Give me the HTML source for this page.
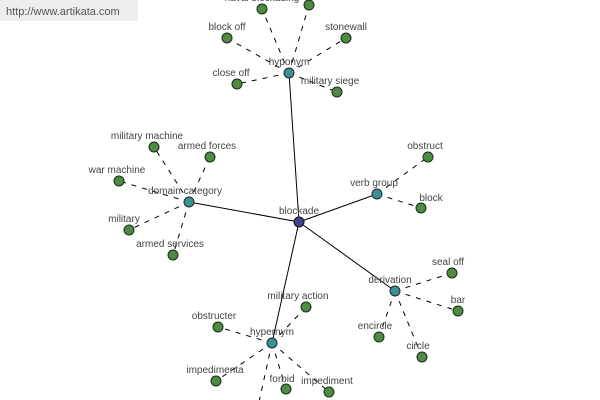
<!DOCTYPE html>
<html><head><style>
html,body{margin:0;padding:0;background:#fff;width:600px;height:400px;overflow:hidden}
svg text{font-family:"Liberation Sans",sans-serif;font-size:10px;fill:#444;text-anchor:middle}
</style></head><body>
<svg width="600" height="400" xmlns="http://www.w3.org/2000/svg">
<rect x="0" y="0" width="138" height="21" fill="#eeeeee"/>
<text x="6" y="15" style="text-anchor:start;font-size:11px;fill:#555">http://www.artikata.com</text>
<g stroke="#000" stroke-width="1">
<line x1="299" y1="222" x2="289" y2="73"/>
<line x1="299" y1="222" x2="377" y2="194"/>
<line x1="299" y1="222" x2="189" y2="202"/>
<line x1="299" y1="222" x2="395" y2="291"/>
<line x1="299" y1="222" x2="272" y2="343"/>
</g>
<g stroke="#000" stroke-width="1" stroke-dasharray="5,6">
<line x1="289" y1="73" x2="262" y2="9"/>
<line x1="289" y1="73" x2="309" y2="5"/>
<line x1="289" y1="73" x2="227" y2="38"/>
<line x1="289" y1="73" x2="346" y2="38"/>
<line x1="289" y1="73" x2="237" y2="84"/>
<line x1="289" y1="73" x2="337" y2="92"/>
<line x1="377" y1="194" x2="428" y2="157"/>
<line x1="377" y1="194" x2="421" y2="208"/>
<line x1="189" y1="202" x2="154" y2="147"/>
<line x1="189" y1="202" x2="210" y2="157"/>
<line x1="189" y1="202" x2="119" y2="181"/>
<line x1="189" y1="202" x2="129" y2="230"/>
<line x1="189" y1="202" x2="173" y2="255"/>
<line x1="395" y1="291" x2="452" y2="273"/>
<line x1="395" y1="291" x2="458" y2="311"/>
<line x1="395" y1="291" x2="379" y2="337"/>
<line x1="395" y1="291" x2="422" y2="357"/>
<line x1="272" y1="343" x2="306" y2="307"/>
<line x1="272" y1="343" x2="218" y2="327"/>
<line x1="272" y1="343" x2="216" y2="381"/>
<line x1="272" y1="343" x2="286" y2="389"/>
<line x1="272" y1="343" x2="329" y2="392"/>
<line x1="272" y1="343" x2="259" y2="402"/>
</g>
<g fill="#4e8a42" stroke="#1a2a1a" stroke-width="1">
<circle cx="262" cy="9" r="5"/><circle cx="309" cy="5" r="5"/>
<circle cx="227" cy="38" r="5"/><circle cx="346" cy="38" r="5"/>
<circle cx="237" cy="84" r="5"/><circle cx="337" cy="92" r="5"/>
<circle cx="428" cy="157" r="5"/><circle cx="421" cy="208" r="5"/>
<circle cx="154" cy="147" r="5"/><circle cx="210" cy="157" r="5"/>
<circle cx="119" cy="181" r="5"/><circle cx="129" cy="230" r="5"/>
<circle cx="173" cy="255" r="5"/>
<circle cx="452" cy="273" r="5"/><circle cx="458" cy="311" r="5"/>
<circle cx="379" cy="337" r="5"/><circle cx="422" cy="357" r="5"/>
<circle cx="306" cy="307" r="5"/><circle cx="218" cy="327" r="5"/>
<circle cx="216" cy="381" r="5"/><circle cx="286" cy="389" r="5"/>
<circle cx="329" cy="392" r="5"/>
</g>
<g fill="#3f8f93" stroke="#1a2a2a" stroke-width="1">
<circle cx="289" cy="73" r="5"/><circle cx="377" cy="194" r="5"/>
<circle cx="189" cy="202" r="5"/><circle cx="395" cy="291" r="5"/>
<circle cx="272" cy="343" r="5"/>
</g>
<circle cx="299" cy="222" r="5" fill="#40448f" stroke="#111" stroke-width="1"/>
<text x="262" y="1">naval blockading</text>
<text x="227" y="30">block off</text>
<text x="346" y="30">stonewall</text>
<text x="231" y="76">close off</text>
<text x="289" y="65">hyponym</text>
<text x="330" y="84">military siege</text>
<text x="299" y="214">blockade</text>
<text x="374" y="186">verb group</text>
<text x="425" y="149">obstruct</text>
<text x="431" y="201">block</text>
<text x="147" y="139">military machine</text>
<text x="207" y="149">armed forces</text>
<text x="117" y="173">war machine</text>
<text x="185" y="194">domain category</text>
<text x="124" y="222">military</text>
<text x="170" y="247">armed services</text>
<text x="390" y="283">derivation</text>
<text x="448" y="265">seal off</text>
<text x="458" y="303">bar</text>
<text x="375" y="329">encircle</text>
<text x="418" y="349">circle</text>
<text x="298" y="299">military action</text>
<text x="214" y="319">obstructer</text>
<text x="272" y="335">hypernym</text>
<text x="215" y="373">impedimenta</text>
<text x="282" y="382">forbid</text>
<text x="327" y="384">impediment</text>
</svg>
</body></html>
